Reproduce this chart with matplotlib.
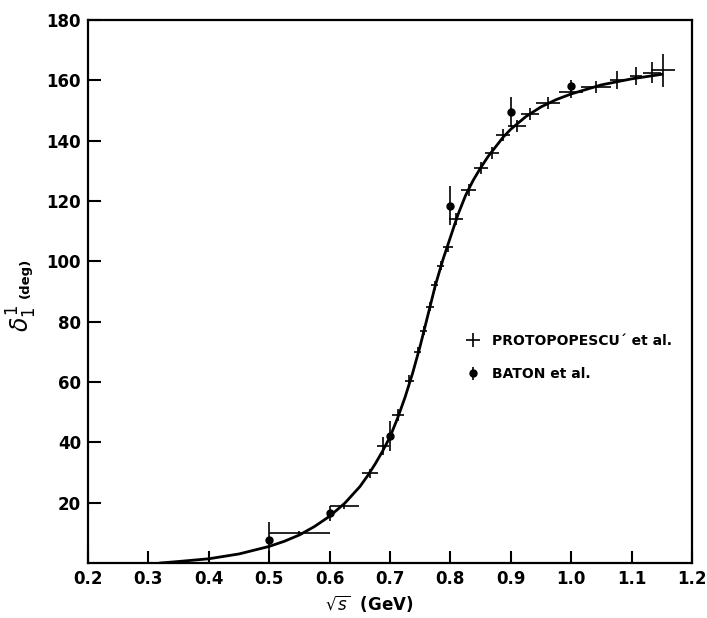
import numpy as np
import matplotlib
matplotlib.use('Agg')
import matplotlib.pyplot as plt

# Protopopescu et al. (crosses: x, y, x error, y error)
prot_x = [0.30, 0.40, 0.55, 0.624, 0.667, 0.689, 0.713, 0.732, 0.746, 0.756,
          0.766, 0.774, 0.784, 0.796, 0.809, 0.830, 0.851, 0.869, 0.887, 0.910,
          0.932, 0.962, 1.000, 1.041, 1.076, 1.107, 1.134, 1.152]
prot_y = [0.5, 1.5, 10.0, 19.0, 29.8, 38.8, 49.0, 60.3, 70.0, 77.0,
          85.0, 92.0, 98.5, 104.7, 114.0, 123.6, 131.0, 136.0, 142.0, 145.0,
          149.0, 152.5, 156.0, 157.7, 160.0, 161.4, 162.5, 163.4]
prot_xerr = [0.0, 0.0, 0.05, 0.024, 0.013, 0.01, 0.01, 0.008, 0.006, 0.006,
             0.006, 0.006, 0.006, 0.008, 0.012, 0.012, 0.012, 0.012, 0.012, 0.015,
             0.015, 0.02, 0.02, 0.025, 0.012, 0.01, 0.015, 0.02]
prot_yerr = [3.0, 2.0, 0.5, 1.0, 1.5, 3.0, 2.0, 2.0, 1.5, 1.5,
             1.5, 1.5, 1.5, 1.5, 2.0, 2.0, 2.0, 2.0, 2.0, 2.0,
             2.0, 2.0, 2.0, 2.0, 3.0, 3.0, 3.5, 5.5]

# Baton et al. (dots)
baton_x = [0.5, 0.6, 0.7, 0.8, 0.9, 1.0]
baton_y = [7.5, 16.5, 42.0, 118.5, 149.5, 158.0]
baton_yerr = [6.0, 2.5, 5.0, 6.5, 5.0, 2.0]

# fitted curve
curve_x = [0.32, 0.35, 0.40, 0.45, 0.50, 0.525, 0.55, 0.575, 0.60, 0.625, 0.65,
           0.6625, 0.675, 0.6875, 0.70, 0.7125, 0.725, 0.7375, 0.75, 0.7625, 0.775,
           0.7875, 0.80, 0.8125, 0.825, 0.8375, 0.85, 0.8625, 0.875, 0.8875, 0.90,
           0.925, 0.95, 0.975, 1.00, 1.05, 1.10, 1.15]
curve_y = [0.0, 0.5, 1.4, 3.0, 5.5, 7.2, 9.3, 12.1, 15.5, 19.8, 25.3,
           28.8, 32.7, 37.0, 41.8, 48.0, 55.0, 63.0, 72.0, 82.0, 92.0,
           100.5, 108.0, 115.5, 121.8, 126.8, 131.0, 134.8, 138.0, 141.2, 143.8,
           148.0, 151.2, 153.6, 155.5, 158.5, 160.5, 162.0]

xticks = [0.2, 0.3, 0.4, 0.5, 0.6, 0.7, 0.8, 0.9, 1.0, 1.1, 1.2]
yticks = [20, 40, 60, 80, 100, 120, 140, 160, 180]

fig = plt.figure(figsize=(7.07, 6.18), dpi=100)
ax = fig.add_axes([0.1245, 0.089, 0.8543, 0.8786])

ax.plot(curve_x, curve_y, color='black', lw=2.0, zorder=3)
ax.errorbar(prot_x, prot_y, xerr=prot_xerr, yerr=prot_yerr, fmt='none',
            ecolor='black', elinewidth=1.2, capsize=0, label="PROTOPOPESCU\u00b4 et al.")
ax.errorbar(baton_x, baton_y, yerr=baton_yerr, fmt='o', color='black', ms=5,
            elinewidth=1.2, capsize=0, label='BATON et al.')

ax.set_xlim(0.2, 1.2)
ax.set_ylim(0, 180)
ax.set_xticks(xticks)
ax.set_xticklabels(['%.1f' % t for t in xticks])
ax.set_yticks(yticks)
ax.tick_params(direction='in', length=9, width=1.5, labelsize=12, pad=5)
for lab in ax.get_xticklabels() + ax.get_yticklabels():
    lab.set_fontweight('bold')
for s in ax.spines.values():
    s.set_linewidth(1.6)

ax.set_xlabel(r'$\sqrt{s}$  (GeV)', fontsize=12, fontweight='bold')
ax.xaxis.set_label_coords(0.465, -0.055)

ax.text(-0.11, 0.45, r'$\delta_{1}^{1}$', transform=ax.transAxes, rotation=90,
        fontsize=17, ha='center', va='center')
ax.text(-0.104, 0.525, '(deg)', transform=ax.transAxes, rotation=90,
        fontsize=9.5, fontweight='bold', ha='center', va='center')

leg = ax.legend(loc='upper left', bbox_to_anchor=(0.605, 0.445), frameon=False,
                handlelength=1.0, handletextpad=0.9, labelspacing=1.4,
                prop={'weight': 'bold', 'size': 10})

fig.savefig('out.png', dpi=100)
